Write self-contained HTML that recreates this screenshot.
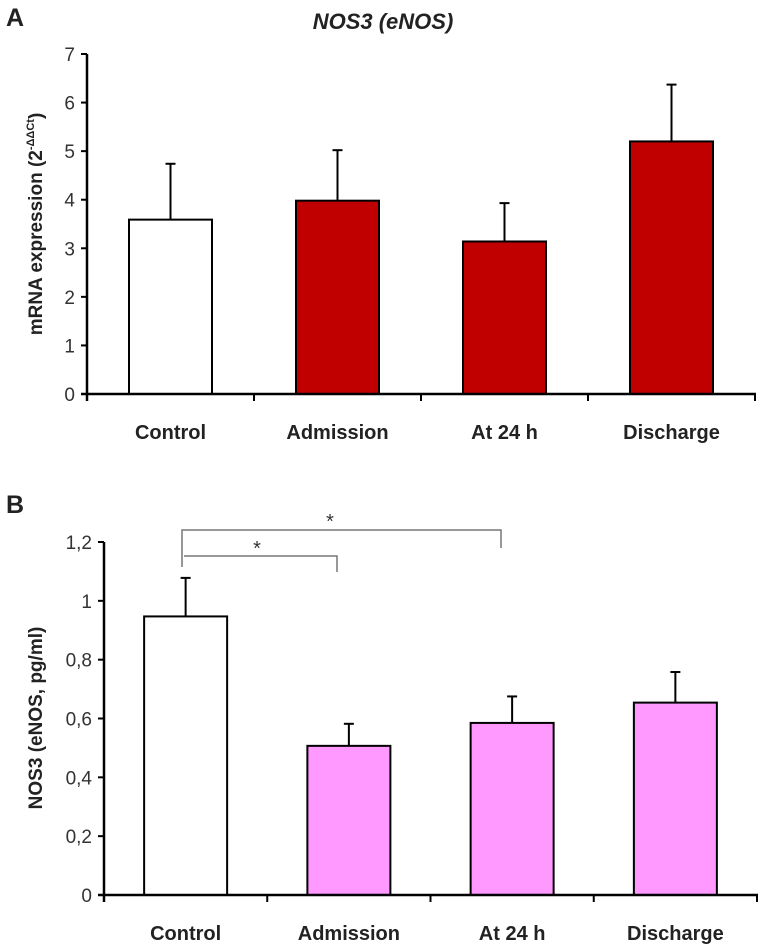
<!DOCTYPE html>
<html><head><meta charset="utf-8"><style>
html,body{margin:0;padding:0;background:#fff;}
svg{display:block;font-family:"Liberation Sans",sans-serif;}
</style></head><body>
<svg id="chart" width="762" height="945" viewBox="0 0 762 945">
<text x="6" y="26" font-size="25" font-weight="bold" fill="#222">A</text>
<text x="383" y="29" font-size="22" font-weight="bold" font-style="italic" text-anchor="middle" fill="#222">NOS3 (eNOS)</text>
<text transform="translate(42,224) rotate(-90)" font-size="19" font-weight="bold" text-anchor="middle" fill="#222">mRNA expression (2<tspan font-size="11" dy="-8">-ΔΔCt</tspan><tspan dy="8">)</tspan></text>
<text x="6" y="513" font-size="25" font-weight="bold" fill="#222">B</text>
<text transform="translate(42,718) rotate(-90)" font-size="19" font-weight="bold" text-anchor="middle" fill="#222">NOS3 (eNOS, pg/ml)</text>
<g id="gA"></g><g id="gB"></g>
<g stroke="#777" stroke-width="1.5" fill="none">
<polyline points="182,567 182,530 501,530 501,548"/>
<polyline points="184,556 337,556 337,572"/>
</g>
<text x="330" y="528" font-size="20" text-anchor="middle" fill="#333">*</text>
<text x="257" y="555" font-size="20" text-anchor="middle" fill="#333">*</text>
</svg>
<script>
const categories = ["Control","Admission","At 24 h","Discharge"];
const valuesA = [3.59, 3.98, 3.14, 5.2];
const errorsA = [4.74, 5.02, 3.93, 6.37];
const ticksA = ["0","1","2","3","4","5","6","7"];
const valuesB = [0.947, 0.507, 0.585, 0.654];
const errorsB = [1.078, 0.582, 0.675, 0.758];
const ticksB = ["0","0,2","0,4","0,6","0,8","1","1,2"];
const NS = "http://www.w3.org/2000/svg";
function mk(g, tag, attrs){const e=document.createElementNS(NS,tag);for(const k in attrs)e.setAttribute(k,attrs[k]);g.appendChild(e);return e;}
function drawPanel(g, o){
  const y = v => o.y0 - (v/o.max)*(o.y0-o.yTop);
  const cw = (o.xEnd-o.x0)/categories.length;
  o.ticks.forEach((t,i)=>{
    const v = i*o.max/(o.ticks.length-1);
    const l = mk(g,'line',{x1:o.x0-6,x2:o.x0,y1:y(v),y2:y(v),stroke:'#000','stroke-width':2});
    
    
    const tx = mk(g,'text',{x:o.x0-12,y:y(v)+7,'font-size':19,'text-anchor':'end',fill:'#333'});
    tx.textContent=t;
    
    
  });
  categories.forEach((c,i)=>{
    const cx = o.x0 + cw*(i+0.5);
    const bw = 83;
    const eb = mk(g,'line',{x1:cx,x2:cx,y1:y(o.vals[i]),y2:y(o.errs[i]),stroke:'#000','stroke-width':2});
    
    
    const cap = mk(g,'line',{x1:cx-5,x2:cx+5,y1:y(o.errs[i]),y2:y(o.errs[i]),stroke:'#000','stroke-width':2});
    
    
    const r = mk(g,'rect',{x:cx-bw/2,y:y(o.vals[i]),width:bw,height:o.y0-y(o.vals[i]),fill:i===0?'#fff':o.color,stroke:'#000','stroke-width':2});
    
    
    const lb = mk(g,'text',{x:cx,y:o.y0+45,'font-size':20,'font-weight':'bold','text-anchor':'middle',fill:'#222'});
    lb.textContent=c;
    
    
    const xt = mk(g,'line',{x1:o.x0+cw*(i+1),x2:o.x0+cw*(i+1),y1:o.y0,y2:o.y0+7,stroke:'#000','stroke-width':2});
    
    
  });
  const ya = mk(g,'line',{x1:o.x0,x2:o.x0,y1:o.yTop,y2:o.y0+7,stroke:'#000','stroke-width':2.5});
  
  
  const xa = mk(g,'line',{x1:o.x0-6,x2:o.xEnd+1,y1:o.y0,y2:o.y0,stroke:'#000','stroke-width':2.5});
  
  
}
drawPanel(document.getElementById('gA'),{x0:87,xEnd:755,y0:394,yTop:54,max:7,ticks:ticksA,vals:valuesA,errs:errorsA,color:'#c00000'});
drawPanel(document.getElementById('gB'),{x0:104,xEnd:757,y0:895,yTop:542,max:1.2,ticks:ticksB,vals:valuesB,errs:errorsB,color:'#ff99ff'});
</script>
</body></html>
